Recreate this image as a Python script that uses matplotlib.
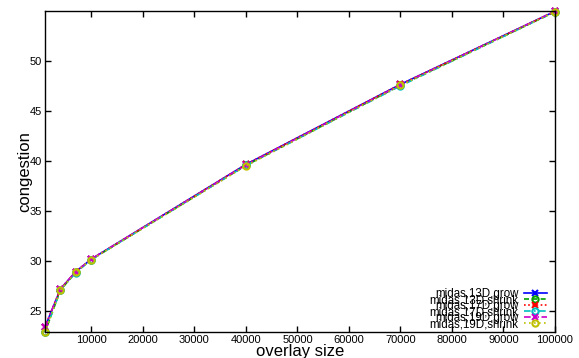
import matplotlib
matplotlib.use("Agg")
import matplotlib.pyplot as plt

plt.rcParams["font.family"] = ["Liberation Sans", "DejaVu Sans"]

overlay_size = [1000, 4000, 7000, 10000, 40000, 70000, 100000]

labels = [
    "midas,13D,grow",
    "midas,13D,shrink",
    "midas,17D,grow",
    "midas,17D,shrink",
    "midas,19D,grow",
    "midas,19D,shrink",
]
congestion_13d_grow = [23.40, 27.20, 28.95, 30.20, 39.65, 47.65, 54.95]
congestion_13d_shrink = [22.90, 27.10, 28.90, 30.15, 39.55, 47.55, 54.90]
congestion_17d_grow = [23.45, 27.20, 28.95, 30.20, 39.65, 47.65, 54.95]
congestion_17d_shrink = [22.90, 27.10, 28.85, 30.15, 39.55, 47.50, 54.90]
congestion_19d_grow = [23.40, 27.25, 28.95, 30.20, 39.60, 47.60, 54.95]
congestion_19d_shrink = [22.88, 27.10, 28.90, 30.15, 39.50, 47.55, 54.90]

series = [congestion_13d_grow, congestion_13d_shrink, congestion_17d_grow,
          congestion_17d_shrink, congestion_19d_grow, congestion_19d_shrink]
colors = ["#0000ff", "#00a000", "#ff0000", "#00c0c0", "#cc00cc", "#c0c000"]
styles = ["-", (0, (3, 2)), (0, (1, 1.5)), (0, (4, 2, 1, 2)),
          (0, (4, 1.5, 1, 1.5, 1, 1.5)), (0, (1, 2))]
markers = ["x", "o", "x", "o", "x", "o"]

fig = plt.figure(figsize=(5.79, 3.58), dpi=100)
ax = fig.add_axes([45 / 579, 25.7 / 358, 510 / 579, 321.3 / 358])

for ys, label, c, ls, m in zip(series, labels, colors, styles, markers):
    ax.plot(overlay_size, ys, color=c, linestyle=ls, linewidth=1.2,
            marker=m, markersize=4.5 if m == "o" else 5, markerfacecolor="none",
            markeredgewidth=1.5, label=label, clip_on=False)

ax.set_xlim(1000, 100000)
ax.set_ylim(22.88, 54.98)
ax.set_xticks(range(10000, 100001, 10000))
ax.set_yticks(range(25, 51, 5))
ax.tick_params(direction="in", length=4, width=1, labelsize=8,
               top=True, right=True, pad=2)
for s in ax.spines.values():
    s.set_linewidth(1)

ax.set_xlabel("overlay size", fontsize=12, labelpad=-1)
ax.set_ylabel("congestion", fontsize=12, labelpad=-2)

ax.legend(loc="lower right", bbox_to_anchor=(1 - 8 / 510, 2 / 321),
          frameon=False, markerfirst=False,
          fontsize=8.3, labelspacing=-0.52, handlelength=2.0,
          handletextpad=0.5, borderaxespad=0, borderpad=0)

fig.savefig("out.png", dpi=100)
